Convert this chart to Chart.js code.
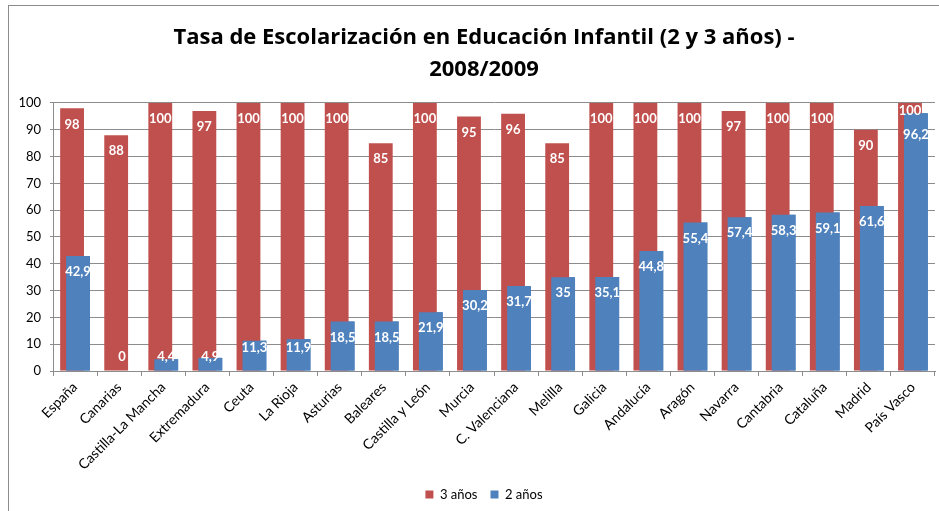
<!DOCTYPE html>
<html>
<head>
<meta charset="utf-8">
<script src="https://cdn.jsdelivr.net/npm/chart.js@4/dist/chart.umd.min.js"></script>
<style>
	body { margin: 0; background: #fff; overflow: hidden; }
	#frame {
		position: absolute; left: 8px; top: 5px;
		width: 931px; height: 506px; overflow: hidden;
		border-left: 1px solid #8c8c8c; border-top: 1px solid #8c8c8c;
	}
	#chart { display: block; }
</style>
</head>
<body>
<!-- the original chart runs past the right edge of the screenshot -->
<div id="frame"><canvas id="chart" width="950" height="505"></canvas></div>
<script>
'use strict';

const titleLines = ['Tasa de Escolarización en Educación Infantil (2 y 3 años) -', '2008/2009'];
const regions = [
	'España', 'Canarias', 'Castilla-La Mancha', 'Extremadura', 'Ceuta',
	'La Rioja', 'Asturias', 'Baleares', 'Castilla y León', 'Murcia',
	'C. Valenciana', 'Melilla', 'Galicia', 'Andalucía', 'Aragón',
	'Navarra', 'Cantabria', 'Cataluña', 'Madrid', 'País Vasco'
];
const tres = [98, 88, 100, 97, 100, 100, 100, 85, 100, 95, 96, 85, 100, 100, 100, 97, 100, 100, 90, 100];
const dos = [42.9, 0, 4.4, 4.9, 11.3, 11.9, 18.5, 18.5, 21.9, 30.2, 31.7, 35, 35.1, 44.8, 55.4, 57.4, 58.3, 59.1, 61.6, 96.2];

const FONT = 'Lato';
const GRID = '#8c8c8c';

function fmt(v) {
	return String(v).replace('.', ',');
}

// blue bars go in front of the red ones (chart.js paints dataset 0 last),
// then the white value labels, Excel "inside end" style
const frontAndLabels = {
	id: 'frontAndLabels',
	afterDatasetsDraw(chart) {
		let ctx = chart.ctx;
		let red = chart.getDatasetMeta(0).data;
		let blue = chart.getDatasetMeta(1).data;
		blue.forEach(el => el.draw(ctx));

		let place = (bar) => {
			let h = bar.base - bar.y;
			if (h < 28) return bar.base - 14;
			return Math.min(bar.y + 16, bar.base - 23);
		};
		ctx.save();
		ctx.font = `bold 13px ${FONT}`;
		ctx.fillStyle = '#fff';
		ctx.textAlign = 'center';
		ctx.textBaseline = 'middle';
		for (let i = 0; i < regions.length; i++) {
			let yr = place(red[i]), yb = place(blue[i]);
			if (Math.abs(yr - yb) < 20) {
				yr = red[i].y + 8;
				yb = blue[i].y + 22;
			}
			ctx.fillText(fmt(tres[i]), red[i].x, yr);
			ctx.fillText(fmt(dos[i]), blue[i].x, yb);
		}
		ctx.restore();
	}
};

new Chart(document.getElementById('chart'), {
	type: 'bar',
	data: {
		labels: regions,
		datasets: [
			{label: '3 años', data: tres, backgroundColor: '#C0504D'},
			{label: '2 años', data: dos, backgroundColor: '#4F81BD'}
		]
	},
	plugins: [frontAndLabels],
	options: {
		responsive: false,
		animation: false,
		categoryPercentage: 0.27,
		barPercentage: 4,
		layout: {padding: 0},
		plugins: {
			title: {
				display: true,
				text: titleLines,
				color: '#000',
				font: {family: 'Open Sans', size: 22, weight: 'bold', lineHeight: 1.4545},
				padding: {top: 16, bottom: 17}
			},
			legend: {
				position: 'bottom',
				labels: {
					color: '#000',
					font: {family: FONT, size: 13},
					boxWidth: 8, boxHeight: 8,
					padding: 13
				}
			},
			tooltip: {enabled: false}
		},
		scales: {
			x: {
				afterFit(scale) { scale.height = 104; },
				grid: {display: true, drawOnChartArea: false, color: GRID, tickLength: 5, offset: true},
				border: {color: GRID},
				ticks: {
					color: '#000',
					font: {family: FONT, size: 14},
					minRotation: 45, maxRotation: 45,
					autoSkip: false
				}
			},
			y: {
				min: 0, max: 100,
				afterFit(scale) { scale.width = 44; },
				grid: {color: GRID, tickLength: 3},
				border: {color: GRID},
				ticks: {
					stepSize: 10,
					color: '#000',
					font: {family: FONT, size: 13},
					padding: 9
				}
			},
			// empty right margin, the part of the plot beyond the screenshot
			margin: {
				position: 'right',
				afterFit(scale) { scale.width = 24; },
				grid: {display: false},
				border: {display: false},
				ticks: {display: false}
			}
		}
	}
});
</script>
</body>
</html>
